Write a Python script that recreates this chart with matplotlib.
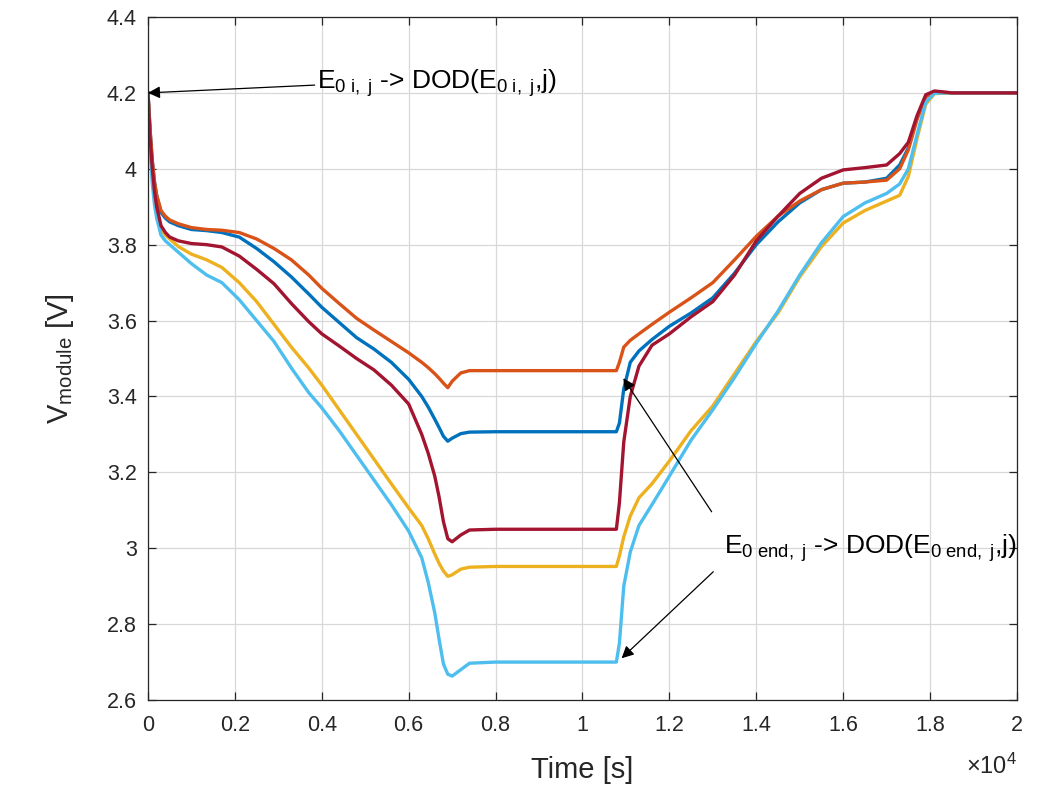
import numpy as np
import matplotlib
matplotlib.use("Agg")
import matplotlib.pyplot as plt
from matplotlib.ticker import FuncFormatter

plt.rcParams['font.family'] = ['Liberation Sans', 'DejaVu Sans']
plt.rcParams['mathtext.fontset'] = 'custom'
plt.rcParams['mathtext.rm'] = 'Liberation Sans'
plt.rcParams['mathtext.it'] = 'Liberation Sans'

# time grid [s]
t = [0, 25, 50, 100, 150, 200, 300, 400, 500, 700, 1000, 1350, 1700,
     2100, 2500, 2900, 3300, 3700, 4000, 4400, 4800, 5200, 5600,
     6000, 6300, 6450, 6600, 6700, 6800, 6900, 7000, 7200, 7400, 8000, 10000,
     10780, 10850, 10950, 11100, 11300, 11600, 12000, 12500, 13000, 13500,
     14000, 14500, 15000, 15500, 16000, 16500, 17000, 17300, 17500, 17700,
     17900, 18100, 18500, 20000]

v_blue = [4.20, 4.15, 4.10, 4.02, 3.965, 3.93, 3.885, 3.87, 3.86, 3.85, 3.84, 3.837, 3.832,
          3.82, 3.79, 3.755, 3.715, 3.67, 3.635, 3.595, 3.555, 3.525, 3.49,
          3.445, 3.40, 3.372, 3.34, 3.318, 3.295, 3.282, 3.29, 3.302, 3.306, 3.307, 3.307,
          3.307, 3.33, 3.42, 3.49, 3.52, 3.55, 3.585, 3.62, 3.66, 3.725,
          3.80, 3.86, 3.91, 3.945, 3.962, 3.965, 3.975, 4.01, 4.055, 4.135,
          4.19, 4.202, 4.20, 4.20]

v_orange = [4.20, 4.15, 4.10, 4.02, 3.965, 3.93, 3.89, 3.875, 3.865, 3.855, 3.845, 3.84, 3.838,
            3.832, 3.815, 3.79, 3.76, 3.72, 3.685, 3.645, 3.606, 3.575, 3.545,
            3.515, 3.49, 3.476, 3.46, 3.448, 3.435, 3.423, 3.44, 3.462, 3.468, 3.468, 3.468,
            3.468, 3.49, 3.53, 3.548, 3.565, 3.59, 3.622, 3.66, 3.70, 3.76,
            3.822, 3.875, 3.915, 3.945, 3.962, 3.965, 3.97, 4.00, 4.05, 4.13,
            4.19, 4.203, 4.20, 4.20]

v_yellow = [4.20, 4.13, 4.07, 3.98, 3.925, 3.89, 3.84, 3.825, 3.815, 3.795, 3.775, 3.76, 3.74,
            3.70, 3.65, 3.59, 3.53, 3.475, 3.43, 3.365, 3.30, 3.235, 3.17,
            3.106, 3.06, 3.025, 2.985, 2.96, 2.94, 2.926, 2.93, 2.945, 2.95, 2.952, 2.952,
            2.952, 2.98, 3.03, 3.085, 3.133, 3.17, 3.23, 3.31, 3.375, 3.46,
            3.545, 3.62, 3.715, 3.795, 3.857, 3.89, 3.915, 3.93, 3.98, 4.08,
            4.17, 4.198, 4.20, 4.20]

v_lightblue = [4.20, 4.12, 4.05, 3.96, 3.905, 3.87, 3.825, 3.81, 3.80, 3.78, 3.75, 3.72, 3.70,
               3.655, 3.60, 3.545, 3.475, 3.41, 3.37, 3.31, 3.245, 3.18, 3.115,
               3.045, 2.975, 2.91, 2.83, 2.76, 2.695, 2.668, 2.663, 2.68, 2.697, 2.70, 2.70,
               2.70, 2.75, 2.90, 2.99, 3.06, 3.115, 3.19, 3.285, 3.365, 3.45,
               3.54, 3.625, 3.72, 3.805, 3.874, 3.91, 3.935, 3.96, 4.00, 4.09,
               4.175, 4.199, 4.20, 4.20]

v_darkred = [4.20, 4.14, 4.08, 4.00, 3.94, 3.90, 3.85, 3.832, 3.82, 3.81, 3.803, 3.80, 3.794,
             3.77, 3.735, 3.697, 3.645, 3.597, 3.565, 3.533, 3.50, 3.47, 3.43,
             3.38, 3.30, 3.25, 3.19, 3.135, 3.07, 3.025, 3.017, 3.035, 3.048, 3.05, 3.05,
             3.05, 3.12, 3.28, 3.40, 3.48, 3.535, 3.565, 3.61, 3.65, 3.72,
             3.81, 3.875, 3.935, 3.975, 3.997, 4.003, 4.01, 4.04, 4.07, 4.14,
             4.195, 4.205, 4.20, 4.20]

series = [v_blue, v_orange, v_yellow, v_lightblue, v_darkred]
colors = ['#0072BD', '#D95319', '#EDB120', '#4DBEEE', '#A2142F']

xticks = [0, 2000, 4000, 6000, 8000, 10000, 12000, 14000, 16000, 18000, 20000]
yticks = [2.6, 2.8, 3.0, 3.2, 3.4, 3.6, 3.8, 4.0, 4.2, 4.4]

fig = plt.figure(figsize=(10.37, 7.9), dpi=100)
ax = fig.add_axes([0.1427, 0.1139, 0.838, 0.8646])

for v, c in zip(series, colors):
    ax.plot(t, v, color=c, lw=2.4, solid_joinstyle='round')

ax.set_xlim(0, 20000)
ax.set_ylim(2.6, 4.4)
ax.set_xticks(xticks)
ax.set_yticks(yticks)
ax.xaxis.set_major_formatter(FuncFormatter(lambda x, p: "{:g}".format(x / 1e4)))
ax.yaxis.set_major_formatter(FuncFormatter(lambda y, p: "{:g}".format(round(y, 1))))

ax.grid(True, color='#d8d8d8', lw=0.9)
ax.set_axisbelow(True)
ax.tick_params(direction='in', top=True, right=True, length=6, width=0.9,
               labelsize=15.5, colors='#262626')
ax.tick_params(axis='x', pad=11)
ax.tick_params(axis='y', pad=8)
for s in ax.spines.values():
    s.set_color('#262626')
    s.set_linewidth(0.9)

ax.set_xlabel('Time [s]', fontsize=21, color='#262626', labelpad=14)
ax.set_ylabel('V$_{\\mathrm{module}}$ [V]', fontsize=21, color='#262626', labelpad=22)
ax.text(1.0, -0.097, '$\\times$10$^{4}$', transform=ax.transAxes, fontsize=17,
        color='#262626', ha='right', va='center')

# annotations
ax.annotate('E$_{0\\ i,\\ j}$ -> DOD(E$_{0\\ i,\\ j}$,j)', xy=(0, 4.2), xytext=(3900, 4.225),
            fontsize=19, va='center', ha='left',
            arrowprops=dict(arrowstyle='-|>', color='black', lw=0.9,
                            mutation_scale=18, shrinkA=0, shrinkB=0,
                            relpos=(0, 0.45)))
ax.annotate('', xy=(10940, 3.448), xytext=(12973, 3.096),
            arrowprops=dict(arrowstyle='-|>', color='black', lw=0.9,
                            mutation_scale=18, shrinkA=0, shrinkB=0))
ax.annotate('', xy=(10900, 2.71), xytext=(13010, 2.938),
            arrowprops=dict(arrowstyle='-|>', color='black', lw=0.9,
                            mutation_scale=18, shrinkA=0, shrinkB=0))
ax.text(13250, 3.0, 'E$_{0\\ \\mathrm{end},\\ j}$ -> DOD(E$_{0\\ \\mathrm{end},\\ j}$,j)',
        fontsize=19, va='center', ha='left', color='black')

fig.savefig('out.png', dpi=100)
